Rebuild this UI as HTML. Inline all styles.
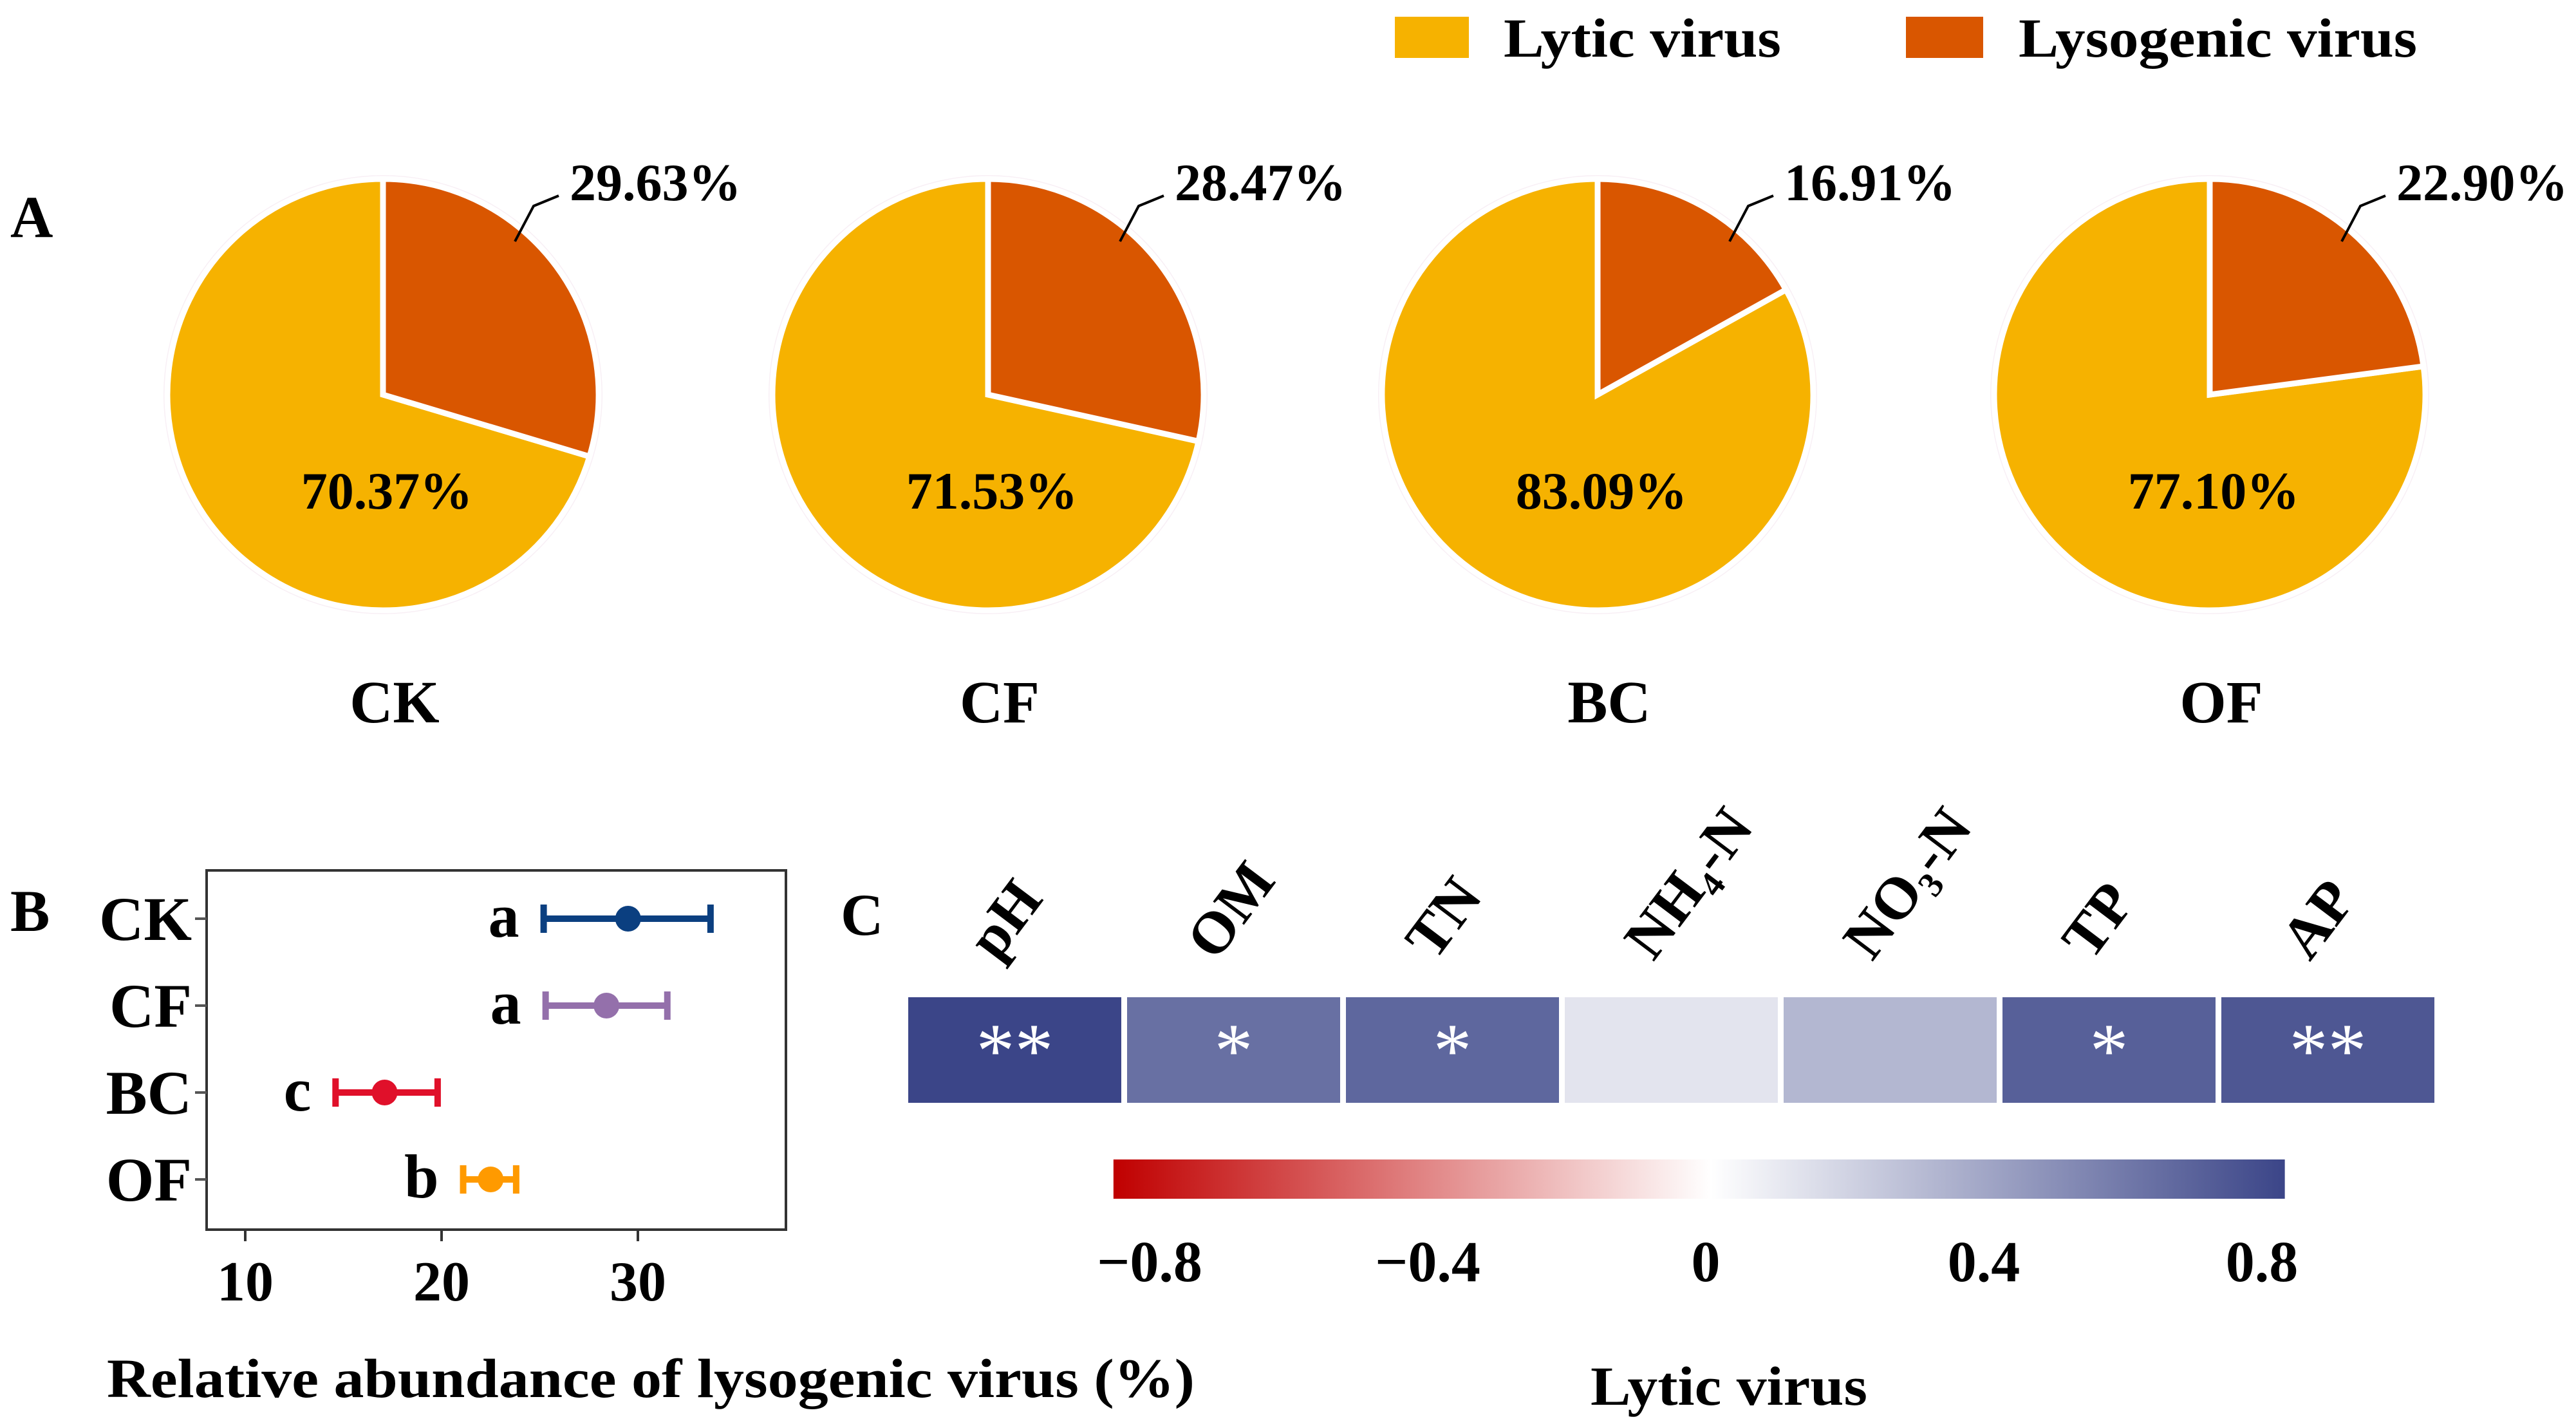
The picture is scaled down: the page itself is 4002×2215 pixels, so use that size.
<!DOCTYPE html>
<html><head><meta charset="utf-8">
<style>
html,body{margin:0;padding:0;background:#fff;}
svg{display:block;}
text{font-family:"Liberation Serif","Times New Roman",serif;font-weight:bold;fill:#000;}
</style></head>
<body>
<svg id="fig" xmlns="http://www.w3.org/2000/svg" width="4002" height="2215" viewBox="0 0 4002 2215">
  <defs>
    <linearGradient id="cbgrad" x1="0" x2="1" y1="0" y2="0">
      <stop offset="0" stop-color="#c00000"/>
      <stop offset="0.51" stop-color="#ffffff"/>
      <stop offset="1" stop-color="#3b4588"/>
    </linearGradient>
  </defs>
  <g>
    <rect x="2167" y="26" width="115" height="64" fill="#f6b200"/>
    <text x="2336" y="88" font-size="86" textLength="431" lengthAdjust="spacingAndGlyphs">Lytic virus</text>
    <rect x="2961" y="26" width="120" height="64" fill="#d95600"/>
    <text x="3136" y="88" font-size="86" textLength="619" lengthAdjust="spacingAndGlyphs">Lysogenic virus</text>
  </g>
  <text x="16" y="368" font-size="92">A</text>
  <text x="16" y="1446" font-size="92">B</text>
  <text x="1306" y="1452" font-size="92">C</text>
  <g id="pies"></g>
  <g id="panelB"></g>
  <g id="panelC"></g>
</svg>
<script>
const NS="http://www.w3.org/2000/svg";
const pieGroups=["CK","CF","BC","OF"];
const lysogenicPct=[29.63,28.47,16.91,22.90];
const lyticPct=[70.37,71.53,83.09,77.10];
const dotGroups=["CK","CF","BC","OF"];
const dotMean=[29.5,28.4,17.1,22.5];
const dotLow=[25.2,25.3,14.6,21.1];
const dotHigh=[33.7,31.5,19.8,23.8];
const dotLetters=["a","a","c","b"];
const xTicks=[10,20,30];
const envVars=["pH","OM","TN","NH₄-N","NO₃-N","TP","AP"];
const corrValues=[0.83,0.64,0.68,0.12,0.32,0.71,0.75];
const sigMarks=["**","*","*","","","*","**"];
const cbTicks=[-0.8,-0.4,0,0.4,0.8];
const cbTickLabels=["−0.8","−0.4","0","0.4","0.8"];

function mk(tag,attrs,parent,txt){const e=document.createElementNS(NS,tag);for(const k in attrs)e.setAttribute(k,attrs[k]);if(txt!==undefined)e.textContent=txt;parent.appendChild(e);return e;}

const pies=document.getElementById('pies');
const pieCx=[595,1535,2482,3433],pieCy=613,pieR=335;
pieGroups.forEach((g,i)=>{
  const cx=pieCx[i];
  const grp=mk('g',{},pies);
  
  
  const bg=mk('circle',{cx:cx,cy:pieCy,r:pieR+6,fill:'#f8eff5'},grp);
  
  
  const a=lysogenicPct[i]/100*2*Math.PI;
  const ex=cx+pieR*Math.sin(a), ey=pieCy-pieR*Math.cos(a);
  const large=a>Math.PI?1:0;
  const lyt=mk('path',{d:`M${cx},${pieCy} L${ex},${ey} A${pieR},${pieR} 0 ${1-large} 1 ${cx},${pieCy-pieR} Z`,fill:'#f6b200',stroke:'#fff','stroke-width':9},grp);
  
  
  const lys=mk('path',{d:`M${cx},${pieCy} L${cx},${pieCy-pieR} A${pieR},${pieR} 0 ${large} 1 ${ex},${ey} Z`,fill:'#d95600',stroke:'#fff','stroke-width':9},grp);
  
  
  const ln=mk('polyline',{points:`${cx+205},${pieCy-238} ${cx+234},${pieCy-293} ${cx+273},${pieCy-309}`,fill:'none',stroke:'#000','stroke-width':4},grp);
  
  
  const t1=mk('text',{x:cx+290,y:311,'font-size':82},grp,lysogenicPct[i].toFixed(2)+'%');
  
  
  const t2=mk('text',{x:cx+6,y:790,'font-size':82,'text-anchor':'middle'},grp,lyticPct[i].toFixed(2)+'%');
  
  
  const t3=mk('text',{x:cx+18,y:1122,'font-size':93,'text-anchor':'middle'},grp,g);
  
  
});

const pb=document.getElementById('panelB');
const bx=v=>381+(v-10)*30.5;
const rowY=i=>1427+i*135;
const dotColors=["#0b3f80","#9470ab","#e0102a","#ff9a00"];
const frame=mk('rect',{x:321,y:1352,width:900,height:558,fill:'none',stroke:'#333','stroke-width':4},pb);


xTicks.forEach(t=>{
  const l=mk('line',{x1:bx(t),x2:bx(t),y1:1910,y2:1928,stroke:'#333','stroke-width':4},pb);
  
  
  const tx=mk('text',{x:bx(t),y:2020,'font-size':88,'text-anchor':'middle'},pb,String(t));
  
  
});
dotGroups.forEach((g,i)=>{
  const y=rowY(i),c=dotColors[i];
  const tk=mk('line',{x1:303,x2:321,y1:y,y2:y,stroke:'#555','stroke-width':4},pb);
  
  
  const lb=mk('text',{x:298,y:y+33,'font-size':96,'text-anchor':'end'},pb,g);
  
  
  const eb=mk('path',{d:`M${bx(dotLow[i])},${y} H${bx(dotHigh[i])} M${bx(dotLow[i])},${y-22} V${y+22} M${bx(dotHigh[i])},${y-22} V${y+22}`,stroke:c,'stroke-width':10,fill:'none'},pb);
  
  
  const pt=mk('circle',{cx:bx(dotMean[i]),cy:y,r:20,fill:c},pb);
  
  
  const lt=mk('text',{x:bx(dotLow[i])-38,y:y+28,'font-size':96,'text-anchor':'end'},pb,dotLetters[i]);
  
  
});
const xt=mk('text',{x:166,y:2170,'font-size':86,textLength:1690,lengthAdjust:'spacingAndGlyphs'},pb,'Relative abundance of lysogenic virus (%)');



const pc=document.getElementById('panelC');
const cellX=i=>1411+i*340, cellW=331, cellY=1549, cellH=164;
function corrColor(v){
  const t=Math.min(1,Math.abs(v)/0.83);
  const end=v>=0?[59,69,136]:[192,0,0];
  return 'rgb('+end.map(e=>Math.round(255+(e-255)*t)).join(',')+')';
}
envVars.forEach((name,i)=>{
  const r=mk('rect',{x:cellX(i),y:cellY,width:cellW,height:cellH,fill:corrColor(corrValues[i])},pc);
  
  
  const cx=cellX(i)+cellW/2;
  if(sigMarks[i]){
    const s=mk('text',{x:cx,y:1672,'font-size':120,'text-anchor':'middle',style:'fill:#fff;font-weight:normal'},pc,sigMarks[i]);
    
    
  }
  const lx=cx-28, ly=1495;
  const t=mk('text',{x:lx,y:ly,'font-size':92,transform:`rotate(-53 ${lx} ${ly})`},pc,name);
  
  
});
const cbx=v=>2650+v*1080;
const cb=mk('rect',{x:cbx(-0.852),y:1801,width:cbx(0.833)-cbx(-0.852),height:61,fill:'url(#cbgrad)'},pc);


cbTicks.forEach((v,i)=>{
  const t=mk('text',{x:cbx(v),y:1990,'font-size':90,'text-anchor':'middle'},pc,cbTickLabels[i]);
  
  
});
const ct=mk('text',{x:2471,y:2182,'font-size':86,textLength:430,lengthAdjust:'spacingAndGlyphs'},pc,'Lytic virus');


</script>
</body></html>
